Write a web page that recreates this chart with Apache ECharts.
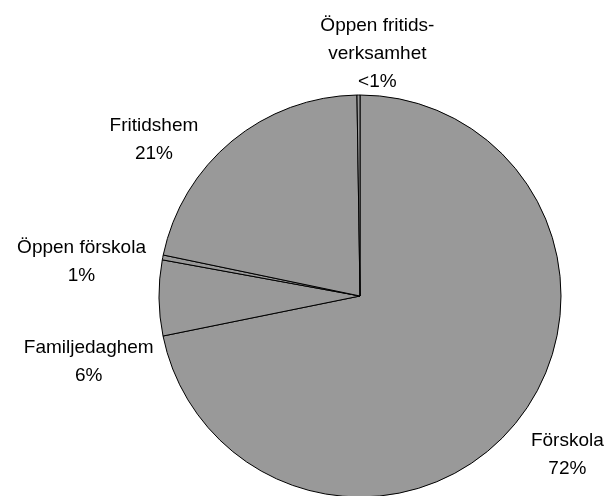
<!DOCTYPE html>
<html>
<head>
<meta charset="utf-8">
<script src="https://cdn.jsdelivr.net/npm/echarts@6/dist/echarts.min.js"></script>
<style>
  html, body { margin: 0; padding: 0; background: #fff; }
  #chart { width: 609px; height: 496px; }
</style>
</head>
<body>
<div id="chart"></div>
<script>
// data, clockwise from 12 o'clock
const names = ['Förskola', 'Familjedaghem', 'Öppen förskola', 'Fritidshem', 'Öppen fritids-\nverksamhet']
const values = [71.81, 6.07, 0.39, 21.49, 0.24]
const pctLabels = ['72%', '6%', '1%', '21%', '<1%']

// small shifts so the labels sit where the original put them
const labelShift = [[1, 24], [6, 49], [-5, 7], [-2, -15], [81, -29]]

let chart = echarts.init(document.getElementById('chart'))

let option = {
    animation: false,
    series: [
        {
            type: 'pie',
            center: [360, 296],
            radius: 201,
            startAngle: 90,
            clockwise: true,
            minAngle: 0,
            minShowLabelAngle: 0,
            avoidLabelOverlap: true,
            data: names.map((n, i) => ({ name: n, value: values[i] })),
            itemStyle: {
                color: '#999999',
                borderColor: '#000',
                borderWidth: 1,
            },
            emphasis: { disabled: true },
            label: {
                show: true,
                position: 'outside',
                formatter: p => p.name + '\n' + pctLabels[p.dataIndex],
                fontFamily: 'Liberation Sans, Arial, sans-serif',
                fontSize: 19,
                lineHeight: 28,
                color: '#000',
                overflow: 'none',
            },
            labelLine: {
                show: false,
                length: 12,
                length2: 0,
            },
            // centre each label's lines on each other, like the original
            labelLayout: p => ({
                x: p.labelRect.x + p.labelRect.width / 2 + labelShift[p.dataIndex][0],
                y: p.labelRect.y + p.labelRect.height / 2 + labelShift[p.dataIndex][1],
                align: 'center',
                verticalAlign: 'middle',
            }),
        },
    ],
}

chart.setOption(option)
</script>
</body>
</html>
